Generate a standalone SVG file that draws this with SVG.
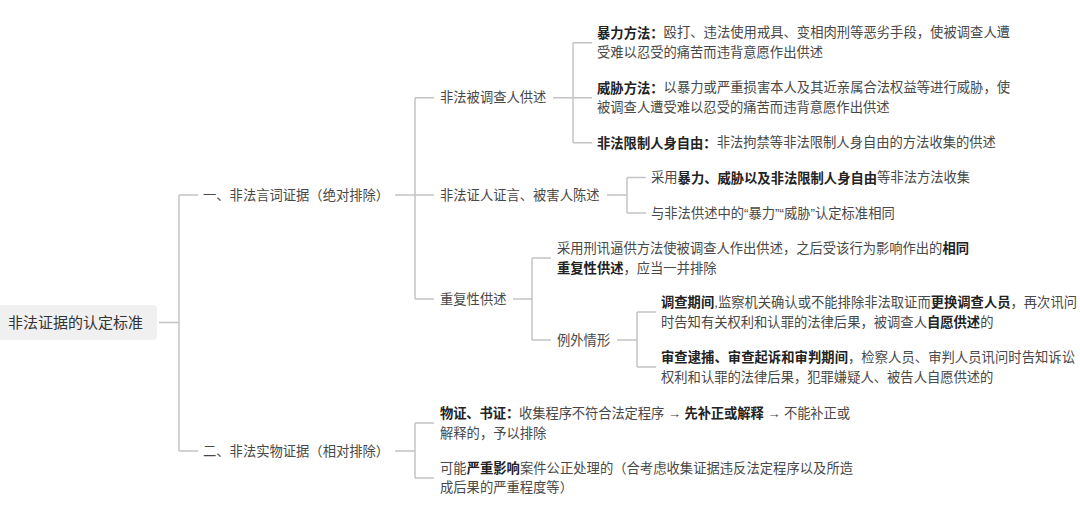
<svg xmlns="http://www.w3.org/2000/svg" width="1080" height="508" viewBox="0 0 1080 508">
<style>
text{font-family:"Liberation Sans","Noto Sans CJK SC",sans-serif;font-size:13.3px;fill:#484848;dominant-baseline:central}
.b{font-weight:700;fill:#222}
.root{font-size:15px;fill:#333}
.ln{fill:none;stroke:#c4c4c4;stroke-width:1.5}
.box{fill:#f0f0f0}
</style>
<rect width="1080" height="508" fill="#fff"/>
<g id="connectors" class="ln">
<path d="M159 322.5H179M179 195V451M179 195H198M179 451H198"/>
<path d="M395 195H434M415 97.7V299M415 97.7H434M415 299H434"/>
<path d="M553 97.7H592M573 42.7V142.7M573 42.7H592M573 142.7H592"/>
<path d="M607 195H627M627 177.5V213M627 177.5H646M627 213H646"/>
<path d="M513 299H532M532 258V340M532 258H551M532 340H551"/>
<path d="M617 340H637M637 312V367M637 312H656M637 367H656"/>
<path d="M395 451H415M415 423V478M415 423H434M415 478H434"/>
</g>
<g id="root">
<rect class="box" x="-4" y="305" width="161" height="35" rx="4"/>
<text class="root" x="8" y="322.5">非法证据的认定标准</text>
</g>
<g id="n1"><text x="203" y="195">一、非法言词证据（绝对排除）</text></g>
<g id="n2"><text x="203" y="451">二、非法实物证据（相对排除）</text></g>
<g id="n1a"><text x="440" y="97.7">非法被调查人供述</text></g>
<g id="n1b"><text x="440" y="195">非法证人证言、被害人陈述</text></g>
<g id="n1c"><text x="440" y="299">重复性供述</text></g>
<g id="leaf-violence">
<text x="597" y="32.7" textLength="413"><tspan class="b">暴力方法：</tspan>殴打、违法使用戒具、变相肉刑等恶劣手段，使被调查人遭</text>
<text x="597" y="52.5">受难以忍受的痛苦而违背意愿作出供述</text>
</g>
<g id="leaf-threat">
<text x="597" y="87.7" textLength="413"><tspan class="b">威胁方法：</tspan>以暴力或严重损害本人及其近亲属合法权益等进行威胁，使</text>
<text x="597" y="107.5">被调查人遭受难以忍受的痛苦而违背意愿作出供述</text>
</g>
<g id="leaf-restrict">
<text x="597" y="142.7"><tspan class="b">非法限制人身自由：</tspan>非法拘禁等非法限制人身自由的方法收集的供述</text>
</g>
<g id="leaf-witness1">
<text x="651" y="177.5">采用<tspan class="b">暴力、威胁以及非法限制人身自由</tspan>等非法方法收集</text>
</g>
<g id="leaf-witness2">
<text x="651" y="213">与非法供述中的“暴力”“威胁”认定标准相同</text>
</g>
<g id="leaf-repeat">
<text x="557" y="248" textLength="412">采用刑讯逼供方法使被调查人作出供述，之后受该行为影响作出的<tspan class="b">相同</tspan></text>
<text x="557" y="268"><tspan class="b">重复性供述</tspan>，应当一并排除</text>
</g>
<g id="n-exception"><text x="557" y="340">例外情形</text></g>
<g id="leaf-exc1">
<text x="661" y="302" textLength="416"><tspan class="b">调查期间</tspan>,监察机关确认或不能排除非法取证而<tspan class="b">更换调查人员</tspan>，再次讯问</text>
<text x="661" y="322">时告知有关权利和认罪的法律后果，被调查人<tspan class="b">自愿供述</tspan>的</text>
</g>
<g id="leaf-exc2">
<text x="661" y="357" textLength="414"><tspan class="b">审查逮捕、审查起诉和审判期间</tspan>，检察人员、审判人员讯问时告知诉讼</text>
<text x="661" y="377">权利和认罪的法律后果，犯罪嫌疑人、被告人自愿供述的</text>
</g>
<g id="leaf-physical1">
<text x="440" y="413" textLength="410"><tspan class="b">物证、书证：</tspan>收集程序不符合法定程序 → <tspan class="b">先补正或解释</tspan> → 不能补正或</text>
<text x="440" y="433">解释的，予以排除</text>
</g>
<g id="leaf-physical2">
<text x="440" y="468" textLength="413">可能<tspan class="b">严重影响</tspan>案件公正处理的（合考虑收集证据违反法定程序以及所造</text>
<text x="440" y="487.5">成后果的严重程度等）</text>
</g>
</svg>
